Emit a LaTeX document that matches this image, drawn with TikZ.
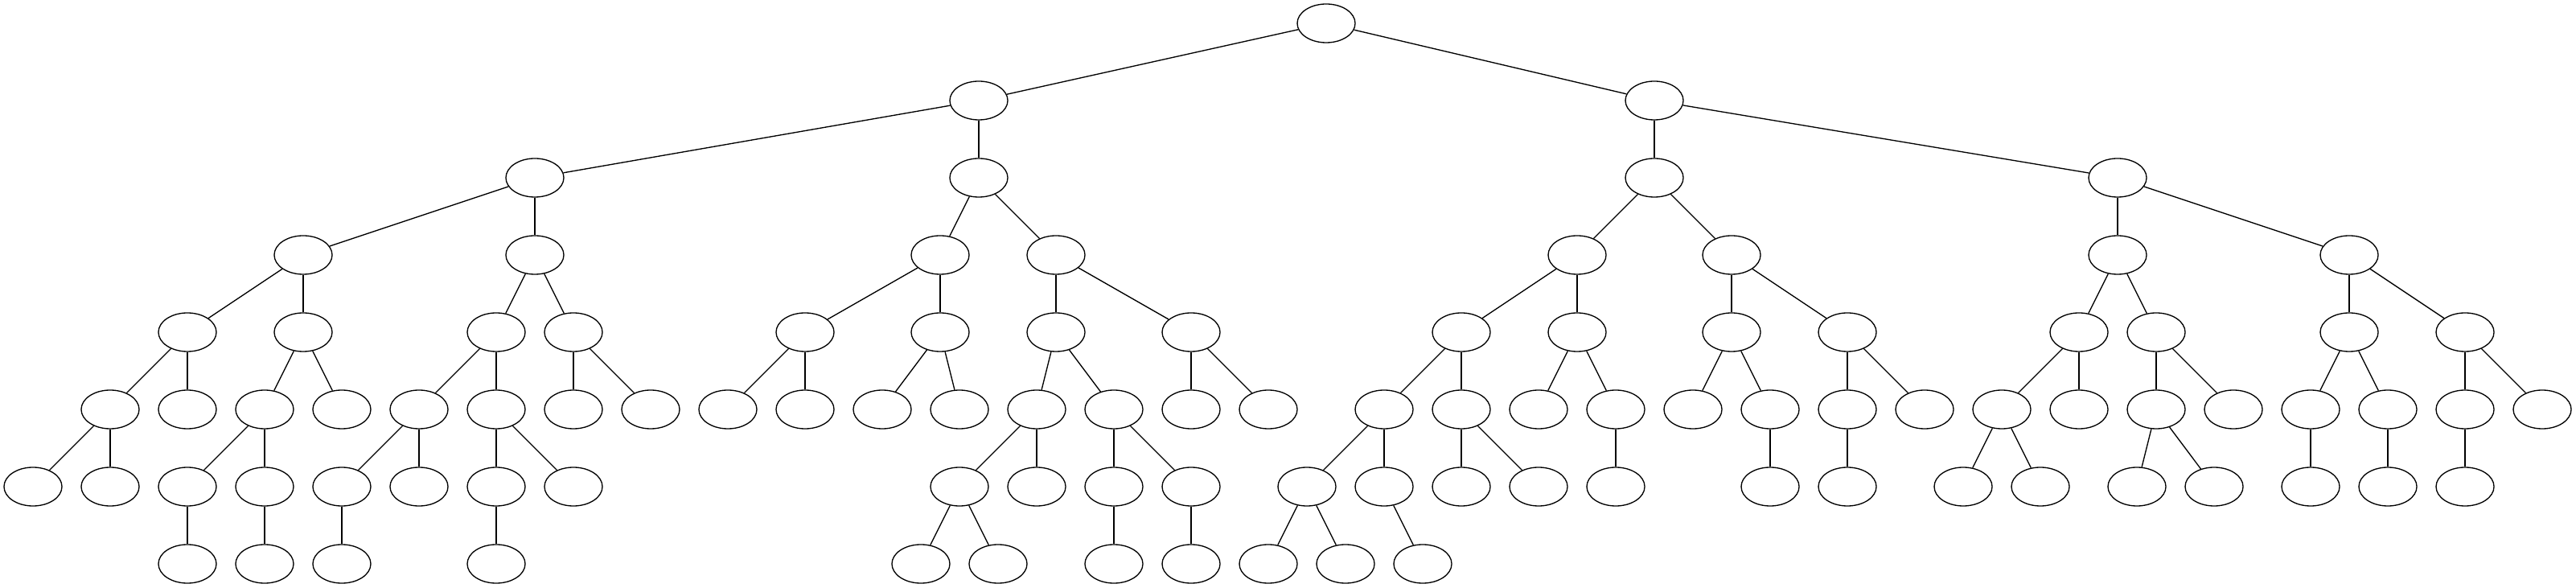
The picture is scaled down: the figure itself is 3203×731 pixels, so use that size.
\documentclass[tikz,border=0pt]{standalone}
\usetikzlibrary{shapes.geometric}
\begin{document}
\begin{tikzpicture}[x=0.01cm,y=-0.01cm,
  nd/.style={draw=black,ellipse,line width=0.38pt,minimum width=0.72cm,minimum height=0.48cm,inner sep=0pt},
  edge/.style={draw=black,line width=0.38pt}]
\useasboundingbox (0,0) rectangle (3203,731);
\foreach \lv/\xv in {0/1649,
  1/1217,1/2057,
  2/665,2/1217,2/2057,2/2633,
  3/377,3/665,3/1169,3/1313,3/1961,3/2153,3/2633,3/2921,
  4/233,4/377,4/617,4/713,4/1001,4/1169,4/1313,4/1481,4/1817,4/1961,4/2153,4/2297,4/2585,4/2681,4/2921,4/3065,
  5/137,5/233,5/329,5/425,5/521,5/617,5/713,5/809,5/905,5/1001,5/1097,5/1193,5/1289,5/1385,5/1481,5/1577,5/1721,5/1817,5/1913,5/2009,5/2105,5/2201,5/2297,5/2393,5/2489,5/2585,5/2681,5/2777,5/2873,5/2969,5/3065,5/3161,
  6/41,6/137,6/233,6/329,6/425,6/521,6/617,6/713,6/1193,6/1289,6/1385,6/1481,6/1625,6/1721,6/1817,6/1913,6/2009,6/2201,6/2297,6/2441,6/2537,6/2657,6/2753,6/2873,6/2969,6/3065,
  7/233,7/329,7/425,7/617,7/1145,7/1241,7/1385,7/1481,7/1577,7/1673,7/1769}
  \node[nd] (n\lv x\xv) at (\xv,{29+96*\lv}) {};
\foreach \pa/\ch in {0x1649/1x1217,0x1649/1x2057,
  1x1217/2x665,1x1217/2x1217,1x2057/2x2057,1x2057/2x2633,
  2x665/3x377,2x665/3x665,2x1217/3x1169,2x1217/3x1313,2x2057/3x1961,2x2057/3x2153,2x2633/3x2633,2x2633/3x2921,
  3x377/4x233,3x377/4x377,3x665/4x617,3x665/4x713,3x1169/4x1001,3x1169/4x1169,3x1313/4x1313,3x1313/4x1481,
  3x1961/4x1817,3x1961/4x1961,3x2153/4x2153,3x2153/4x2297,3x2633/4x2585,3x2633/4x2681,3x2921/4x2921,3x2921/4x3065,
  4x233/5x137,4x233/5x233,4x377/5x329,4x377/5x425,4x617/5x521,4x617/5x617,4x713/5x713,4x713/5x809,
  4x1001/5x905,4x1001/5x1001,4x1169/5x1097,4x1169/5x1193,4x1313/5x1289,4x1313/5x1385,4x1481/5x1481,4x1481/5x1577,
  4x1817/5x1721,4x1817/5x1817,4x1961/5x1913,4x1961/5x2009,4x2153/5x2105,4x2153/5x2201,4x2297/5x2297,4x2297/5x2393,
  4x2585/5x2489,4x2585/5x2585,4x2681/5x2681,4x2681/5x2777,4x2921/5x2873,4x2921/5x2969,4x3065/5x3065,4x3065/5x3161,
  5x137/6x41,5x137/6x137,5x329/6x233,5x329/6x329,5x521/6x425,5x521/6x521,5x617/6x617,5x617/6x713,
  5x1289/6x1193,5x1289/6x1289,5x1385/6x1385,5x1385/6x1481,5x1721/6x1625,5x1721/6x1721,5x1817/6x1817,5x1817/6x1913,
  5x2009/6x2009,5x2201/6x2201,5x2297/6x2297,5x2489/6x2441,5x2489/6x2537,5x2681/6x2657,5x2681/6x2753,
  5x2873/6x2873,5x2969/6x2969,5x3065/6x3065,
  6x233/7x233,6x329/7x329,6x425/7x425,6x617/7x617,6x1193/7x1145,6x1193/7x1241,6x1385/7x1385,6x1481/7x1481,
  6x1625/7x1577,6x1625/7x1673,6x1721/7x1769}
  \draw[edge] (n\pa) -- (n\ch);
\end{tikzpicture}
\end{document}
